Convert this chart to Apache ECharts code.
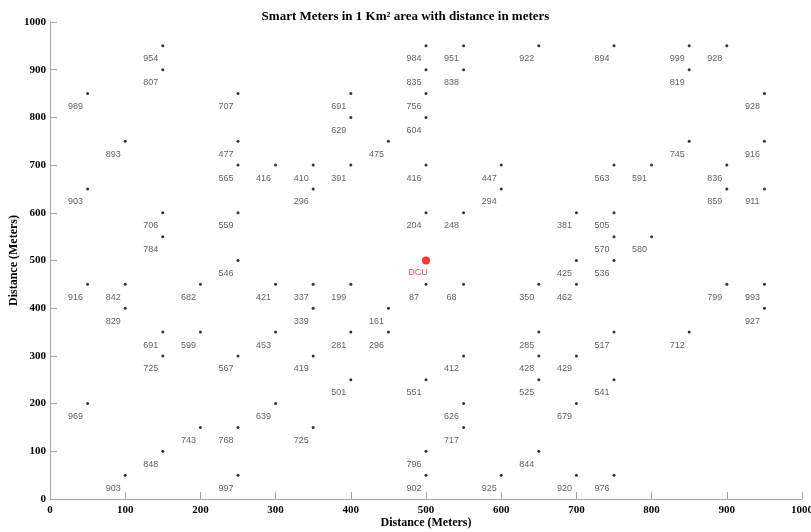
<!DOCTYPE html>
<html>
<head>
<meta charset="utf-8">
<script src="https://cdn.jsdelivr.net/npm/echarts@6/dist/echarts.min.js"></script>
<style>
  html, body { margin: 0; padding: 0; background: #fff; }
  #chart { width: 811px; height: 532px; }
</style>
</head>
<body>
<div id="chart"></div>
<script>
// meter positions (meters) and their distance to the DCU
const meterX = [
  150, 500, 550, 650, 750, 850, 900,
  150, 500, 550, 850,
  50, 250, 400, 500, 950,
  400, 500,
  100, 250, 450, 850, 950,
  250, 300, 350, 400, 500, 600, 750, 800, 900,
  50, 350, 600, 900, 950,
  150, 250, 500, 550, 700, 750,
  150, 750, 800,
  250, 700, 750,
  50, 100, 200, 300, 350, 400, 500, 550, 650, 700, 900, 950,
  100, 350, 450, 950,
  150, 200, 300, 400, 450, 650, 750, 850,
  150, 250, 350, 550, 650, 700,
  400, 500, 650, 750,
  50, 300, 550, 700,
  200, 250, 350, 550,
  150, 500, 650,
  100, 250, 500, 600, 700, 750
];
const meterY = [
  950, 950, 950, 950, 950, 950, 950,
  900, 900, 900, 900,
  850, 850, 850, 850, 850,
  800, 800,
  750, 750, 750, 750, 750,
  700, 700, 700, 700, 700, 700, 700, 700, 700,
  650, 650, 650, 650, 650,
  600, 600, 600, 600, 600, 600,
  550, 550, 550,
  500, 500, 500,
  450, 450, 450, 450, 450, 450, 450, 450, 450, 450, 450, 450,
  400, 400, 400, 400,
  350, 350, 350, 350, 350, 350, 350, 350,
  300, 300, 300, 300, 300, 300,
  250, 250, 250, 250,
  200, 200, 200, 200,
  150, 150, 150, 150,
  100, 100, 100,
  50, 50, 50, 50, 50, 50
];
const meterDist = [
  954, 984, 951, 922, 894, 999, 928,
  807, 835, 838, 819,
  989, 707, 691, 756, 928,
  629, 604,
  893, 477, 475, 745, 916,
  565, 416, 410, 391, 416, 447, 563, 591, 836,
  903, 296, 294, 859, 911,
  706, 559, 204, 248, 381, 505,
  784, 570, 580,
  546, 425, 536,
  916, 842, 682, 421, 337, 199, 87, 68, 350, 462, 799, 993,
  829, 339, 161, 927,
  691, 599, 453, 281, 296, 285, 517, 712,
  725, 567, 419, 412, 428, 429,
  501, 551, 525, 541,
  969, 639, 626, 679,
  743, 768, 725, 717,
  848, 796, 844,
  903, 997, 902, 925, 920, 976
];
const dcuX = 500;
const dcuY = 500;
const axisTicks = [0, 100, 200, 300, 400, 500, 600, 700, 800, 900, 1000];

const serif = "'Liberation Serif', 'Times New Roman', serif";
const sans = "'Liberation Sans', Arial, sans-serif";

const meterData = meterX.map((x, i) => [x, meterY[i], meterDist[i]]);

const axisCommon = {
  type: "value",
  min: axisTicks[0],
  max: axisTicks[axisTicks.length - 1],
  interval: axisTicks[1] - axisTicks[0],
  splitLine: { show: false },
  axisLine: { show: true, lineStyle: { color: "#a6a6a6", width: 1 } },
  axisTick: { show: true, inside: true, length: 7, lineStyle: { color: "#a6a6a6" } },
  axisLabel: {
    fontFamily: serif, fontWeight: "bold", fontSize: 11, color: "#000",
    formatter: (v) => String(v),
  },
  name: "Distance (Meters)",
  nameLocation: "middle",
  nameMoveOverlap: false,
  nameTextStyle: { fontFamily: serif, fontWeight: "bold", fontSize: 12, color: "#000" },
};

const chart = echarts.init(document.getElementById("chart"));
chart.setOption({
  animation: false,
  title: {
    text: "Smart Meters in 1 Km² area with distance in meters",
    left: "center",
    top: 5,
    textStyle: { fontFamily: serif, fontWeight: "bold", fontSize: 13, color: "#000" },
  },
  grid: { left: 50, right: 9, top: 22, bottom: 33, outerBoundsMode: "none", containLabel: false },
  xAxis: {
    ...axisCommon,
    nameGap: 18,
    axisLabel: { ...axisCommon.axisLabel, margin: 6 },
  },
  yAxis: {
    ...axisCommon,
    nameGap: 30,
    axisLabel: { ...axisCommon.axisLabel, margin: 4 },
  },
  series: [
    {
      type: "scatter",
      symbolSize: 3,
      itemStyle: { color: "#000" },
      data: meterData,
      label: {
        show: true,
        position: "bottom",
        distance: 7,
        offset: [-12, 0],
        fontFamily: sans,
        fontSize: 9,
        color: "#3a3a3a",
        formatter: (p) => String(p.value[2]),
      },
    },
    {
      type: "scatter",
      symbolSize: 8,
      itemStyle: { color: "#ff0000" },
      data: [[dcuX, dcuY]],
      label: {
        show: true,
        position: "bottom",
        distance: 4,
        offset: [-8, 0],
        fontFamily: sans,
        fontSize: 9,
        color: "#ff2020",
        formatter: "DCU",
      },
    },
  ],
});
</script>
</body>
</html>
